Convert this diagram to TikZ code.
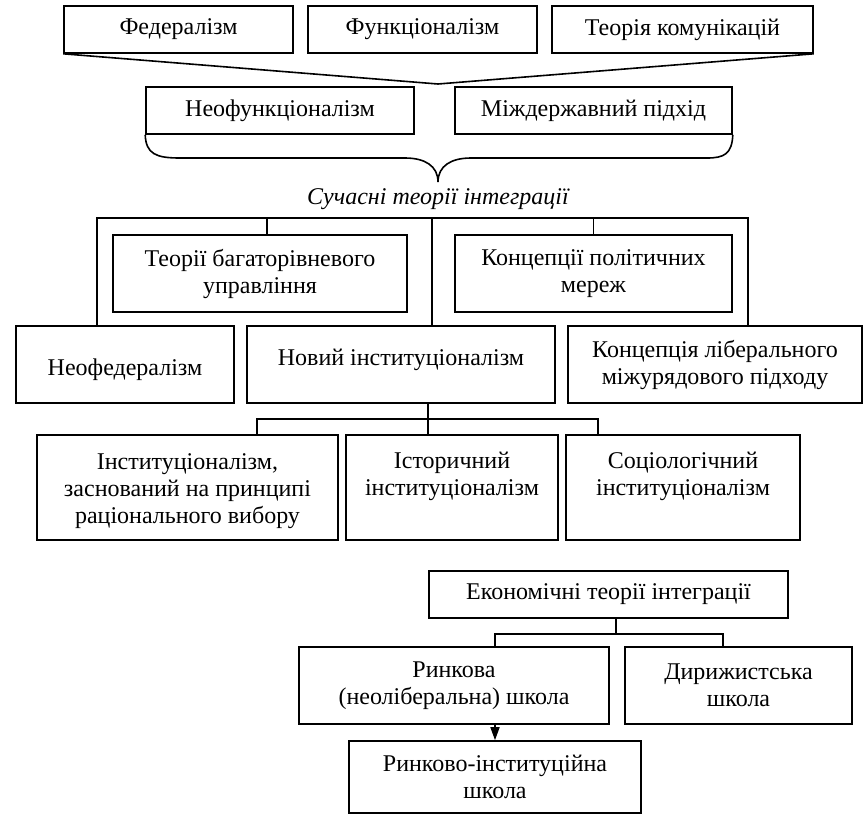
\documentclass[tikz,border=0pt]{standalone}
\usepackage{fontspec}
\setmainfont{Liberation Serif}
\usetikzlibrary{arrows.meta}
\newcommand\firstlinestrut{\rule{0pt}{23pt}}
\begin{document}
\begin{tikzpicture}[x=1pt,y=-1pt,
  every node/.style={font=\fontsize{24}{27}\selectfont},
  box/.style={draw, line width=1.6pt, align=center, inner sep=0pt, anchor=center},
  link/.style={line width=1.6pt},
  brace/.style={line width=1.6pt},
  caption/.style={font=\fontsize{24}{27}\selectfont\itshape}]
\useasboundingbox[fill=white] (0,0) rectangle (867,814);

% first row: source theories
\node[box, minimum width=229pt, minimum height=47pt] (fed)  at (178.5,29.5) {Федералізм};
\node[box, minimum width=229pt, minimum height=47pt] (func) at (422.5,29.5) {Функціоналізм};
\node[box, minimum width=261pt, minimum height=47pt] (comm) at (682.5,29.5) {Теорія комунікацій};
\coordinate (vtip) at (438,84);
\draw[link] (fed.south west) -- (vtip) -- (comm.south east);

% second row
\node[box, minimum width=268pt, minimum height=47pt] (neofunc) at (280,110.5) {Неофункціоналізм};
\node[box, minimum width=277pt, minimum height=47pt] (mizh)    at (593.5,110.5) {Міждержавний підхід};

% curly brace under the second row
\coordinate (btip) at (438,182);
\draw[brace] (neofunc.south west) .. controls (146,154) and (156,158) .. (180,158)
  -- (405,158) .. controls (425,158) and (438,166) .. (btip)
  .. controls (438,166) and (451,158) .. (471,158)
  -- (707,158) .. controls (724,158) and (732,154) .. (mizh.south east);

\node[caption] (modern) at (438,199) {Сучасні теорії інтеграції};

% modern theories
\node[box, minimum width=294pt, minimum height=77pt] (mlg) at (260,273.5) {Теорії багаторівневого\\управління};
\node[box, minimum width=277pt, minimum height=77pt] (pn)  at (593.5,273.5) {Концепції політичних\\мереж};
\node[box, minimum width=218pt, minimum height=77pt, text height=27pt, text depth=5pt] (neofed) at (125,364.5) {Неофедералізм};
\node[box, minimum width=308pt, minimum height=77pt, text height=20pt, text depth=19pt] (ni) at (401,364.5) {Новий інституціоналізм};
\node[box, minimum width=294pt, minimum height=77pt] (lib) at (715,364.5) {Концепція ліберального\\міжурядового підходу};

\coordinate (tl) at (97,218);
\coordinate (tm) at (432,218);
\coordinate (tr) at (748,218);
\draw[link] (tl |- neofed.north) -- (tl) -- (tr) -- (tr |- lib.north);
\draw[link] (tm) -- (tm |- ni.north);
\draw[link] ([xshift=7pt]mlg.north) -- ([xshift=7pt]mlg.north |- tl);
\draw[link] (pn.north) -- (pn.north |- tl);

% branches of new institutionalism
\node[box, minimum width=301pt, minimum height=105pt] (rc)   at (187.5,487.5) {\firstlinestrut Інституціоналізм,\\заснований на принципі\\раціонального вибору};
\node[box, minimum width=212pt, minimum height=105pt] (hist) at (452,487.5) {Історичний\\інституціоналізм\\\mbox{}};
\node[box, minimum width=234pt, minimum height=105pt] (soc)  at (683,487.5) {Соціологічний\\інституціоналізм\\\mbox{}};

\coordinate (bl) at (257,419);
\coordinate (bm) at (428,419);
\coordinate (br) at (598,419);
\draw[link] (bm |- ni.south) -- (bm |- hist.north);
\draw[link] (bl |- rc.north) -- (bl) -- (br) -- (br |- soc.north);

% economic theories
\node[box, minimum width=359pt, minimum height=47pt] (econ) at (608.5,594.5) {Економічні теорії інтеграції};
\node[box, minimum width=310pt, minimum height=77pt] (mkt)  at (454,685.5) {Ринкова\\(неоліберальна) школа};
\node[box, minimum width=227pt, minimum height=77pt] (dir)  at (738.5,685.5) {Дирижистська\\школа};
\node[box, minimum width=292pt, minimum height=72pt] (mi)   at (495,777) {Ринково-інституційна\\школа};

\coordinate (el) at (495,634);
\coordinate (em) at (616,634);
\coordinate (er) at (723,634);
\draw[link] (em |- econ.south) -- (em);
\draw[link] (el |- mkt.north) -- (el) -- (er) -- (er |- dir.north);
\draw[link, -{Triangle[length=13pt,width=9pt]}] (mi.north |- mkt.south) -- (mi.north);
\end{tikzpicture}
\end{document}
